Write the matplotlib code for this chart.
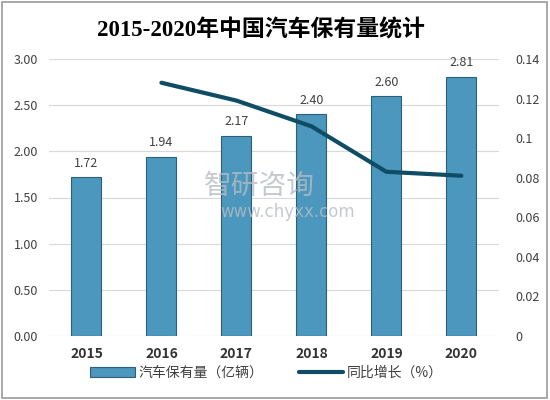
import matplotlib.pyplot as plt
from matplotlib.patches import Rectangle

plt.rcParams['font.family'] = ['Noto Sans CJK SC', 'DejaVu Sans']

years = ['2015', '2016', '2017', '2018', '2019', '2020']
stock = [1.72, 1.94, 2.17, 2.40, 2.60, 2.81]
growth_years = ['2016', '2017', '2018', '2019', '2020']
growth = [0.128, 0.119, 0.106, 0.083, 0.081]

left_ticks = [0, 0.5, 1.0, 1.5, 2.0, 2.5, 3.0]
right_ticks = [0, 0.02, 0.04, 0.06, 0.08, 0.10, 0.12, 0.14]
right_labels = ['0', '0.02', '0.04', '0.06', '0.08', '0.1', '0.12', '0.14']

fig = plt.figure(figsize=(5.5, 4), dpi=100)
fig.patches.append(Rectangle((0.004, 0.006), 0.99, 0.988, transform=fig.transFigure,
                             fill=False, edgecolor='#9a9a9a', linewidth=1.2))
ax = fig.add_axes([0.089, 0.16, 0.818, 0.6925])

x = list(range(len(years)))
bars = ax.bar(x, stock, width=0.4, color='#4b97bd', edgecolor='#2f5f78', linewidth=0.8,
              label='汽车保有量（亿辆）', zorder=2)
for xi, v in zip(x, stock):
    ax.text(xi, v + 0.08, f'{v:.2f}', ha='center', va='bottom', fontsize=9, color='#404040')

ax.set_xlim(-0.5, len(years) - 0.5)
ax.set_ylim(0, 3.0)
ax.set_yticks(left_ticks)
ax.set_yticklabels([f'{t:.2f}' for t in left_ticks], fontsize=9, color='#404040')
ax.set_xticks(x)
ax.set_xticklabels(years, fontsize=10, fontweight='bold', color='#333333')
ax.tick_params(length=0, pad=8)
ax.grid(axis='y', color='#d9d9d9', linewidth=0.8, zorder=0)
ax.set_axisbelow(True)
for s in ax.spines.values():
    s.set_visible(False)

ax2 = ax.twinx()
gx = [years.index(y) for y in growth_years]
line, = ax2.plot(gx, growth, color='#0f4d64', linewidth=3, label='同比增长（%）',
                 solid_capstyle='round', zorder=3)
ax2.set_ylim(0, 0.14)
ax2.set_yticks(right_ticks)
ax2.set_yticklabels(right_labels, fontsize=9, color='#404040')
ax2.tick_params(length=0, pad=12)
for s in ax2.spines.values():
    s.set_visible(False)

# watermark
fig.text(0.37, 0.535, '智研咨询', fontsize=20, color='#b5bcc4', alpha=0.8, ha='left', va='center')
fig.text(0.40, 0.47, 'www.chyxx.com', fontsize=12, color='#b5bcc4', alpha=0.8,
         ha='left', va='center', family=['DejaVu Sans'])

fig.text(0.475, 0.925, '2015-2020年中国汽车保有量统计', ha='center', va='center',
         fontsize=16.5, fontweight='bold', family=['Liberation Serif', 'Noto Sans CJK SC'])

fig.legend(handles=[bars, line], loc='center', bbox_to_anchor=(0.485, 0.068), ncol=2,
           frameon=False, fontsize=10, handlelength=3.2, columnspacing=2.5, handletextpad=0.3,
           labelcolor='#404040')

fig.savefig('out.png', dpi=100)
